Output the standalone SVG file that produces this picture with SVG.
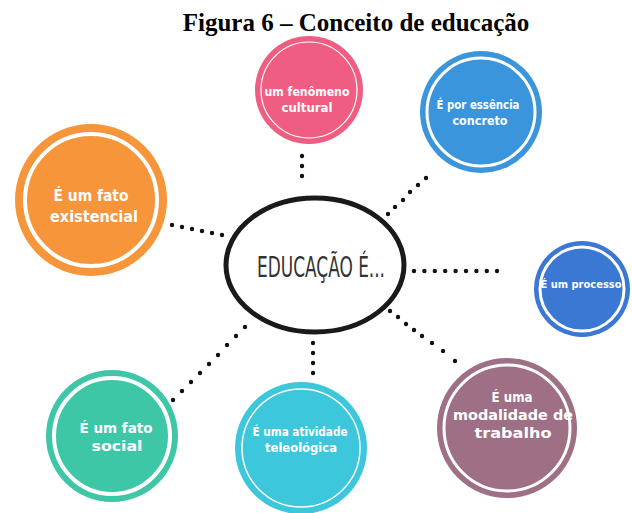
<svg xmlns="http://www.w3.org/2000/svg" width="632" height="513" viewBox="0 0 632 513">
<style>
.t{font-family:"DejaVu Sans Condensed","Liberation Sans Narrow",sans-serif;font-weight:bold;fill:#fff;text-anchor:middle}
.ring{fill:none;stroke:#fff}
.dot{fill:#111}
</style>
<rect width="632" height="513" fill="#fff"/>
<text x="356" y="31" font-family="Liberation Serif,serif" font-weight="bold" font-size="25" text-anchor="middle" fill="#000">Figura 6 – Conceito de educação</text>

<g id="connectors">
<circle class="dot" cx="302" cy="156" r="2.2"/><circle class="dot" cx="302" cy="166" r="2.2"/><circle class="dot" cx="302" cy="176" r="2.2"/>
<circle class="dot" cx="426" cy="178" r="2.2"/><circle class="dot" cx="418" cy="185" r="2.2"/><circle class="dot" cx="410" cy="192" r="2.2"/><circle class="dot" cx="403" cy="200" r="2.2"/><circle class="dot" cx="395" cy="207" r="2.2"/><circle class="dot" cx="388" cy="214" r="2.2"/>
<circle class="dot" cx="172" cy="225" r="2.2"/><circle class="dot" cx="182" cy="227" r="2.2"/><circle class="dot" cx="192" cy="229" r="2.2"/><circle class="dot" cx="202" cy="231" r="2.2"/><circle class="dot" cx="212" cy="233" r="2.2"/><circle class="dot" cx="222" cy="235" r="2.2"/>
<circle class="dot" cx="414" cy="271" r="2.2"/><circle class="dot" cx="424.4" cy="271" r="2.2"/><circle class="dot" cx="434.8" cy="271" r="2.2"/><circle class="dot" cx="445.2" cy="271" r="2.2"/><circle class="dot" cx="455.6" cy="271" r="2.2"/><circle class="dot" cx="466" cy="271" r="2.2"/><circle class="dot" cx="476.4" cy="271" r="2.2"/><circle class="dot" cx="486.8" cy="271" r="2.2"/><circle class="dot" cx="497" cy="271" r="2.2"/>
<circle class="dot" cx="382" cy="305" r="2.2"/><circle class="dot" cx="390" cy="311" r="2.2"/><circle class="dot" cx="398" cy="317" r="2.2"/><circle class="dot" cx="406" cy="324" r="2.2"/><circle class="dot" cx="414" cy="330" r="2.2"/><circle class="dot" cx="422" cy="336" r="2.2"/><circle class="dot" cx="432" cy="343" r="2.2"/><circle class="dot" cx="443" cy="351" r="2.2"/><circle class="dot" cx="455" cy="361" r="2.2"/>
<circle class="dot" cx="173" cy="400" r="2.2"/><circle class="dot" cx="182" cy="391" r="2.2"/><circle class="dot" cx="191" cy="382" r="2.2"/><circle class="dot" cx="200" cy="373" r="2.2"/><circle class="dot" cx="209" cy="364" r="2.2"/><circle class="dot" cx="218" cy="355" r="2.2"/><circle class="dot" cx="227" cy="345" r="2.2"/><circle class="dot" cx="236" cy="336" r="2.2"/><circle class="dot" cx="245" cy="327" r="2.2"/>
<circle class="dot" cx="313" cy="343" r="2.2"/><circle class="dot" cx="313" cy="353" r="2.2"/><circle class="dot" cx="313" cy="363" r="2.2"/><circle class="dot" cx="313" cy="373" r="2.2"/>
</g>

<g id="center">
<ellipse cx="315" cy="265" rx="89" ry="67" fill="#fff" stroke="#1a1a1a" stroke-width="5"/>
<text x="321" y="277" font-family="DejaVu Sans Condensed,sans-serif" font-weight="200" font-size="29" fill="#333" text-anchor="middle" textLength="128" lengthAdjust="spacingAndGlyphs">EDUCAÇÃO É...</text>
</g>

<g id="n-pink">
<circle cx="309" cy="90" r="54" fill="#ef5e82"/>
<circle class="ring" cx="309" cy="90" r="48" stroke-width="1.2"/>
<text class="t" x="307" y="96" font-size="12" textLength="85" lengthAdjust="spacingAndGlyphs">um fenômeno</text>
<text class="t" x="307" y="112" font-size="12" textLength="51" lengthAdjust="spacingAndGlyphs">cultural</text>
</g>

<g id="n-blue1">
<circle cx="481" cy="112" r="61" fill="#3a95dc"/>
<circle class="ring" cx="481" cy="112" r="54" stroke-width="3"/>
<text class="t" x="478" y="109" font-size="13" textLength="83" lengthAdjust="spacingAndGlyphs">É por essência</text>
<text class="t" x="480" y="125" font-size="13" textLength="55" lengthAdjust="spacingAndGlyphs">concreto</text>
</g>

<g id="n-orange">
<circle cx="91" cy="200" r="76" fill="#f7953b"/>
<circle class="ring" cx="91" cy="200" r="66" stroke-width="4"/>
<text class="t" x="91" y="201" font-size="16" textLength="75" lengthAdjust="spacingAndGlyphs">É um fato</text>
<text class="t" x="94" y="222" font-size="16" textLength="88" lengthAdjust="spacingAndGlyphs">existencial</text>
</g>

<g id="n-blue2">
<circle cx="582" cy="289" r="48" fill="#3b78d3"/>
<circle class="ring" cx="582" cy="289" r="42" stroke-width="3"/>
<text class="t" x="581" y="288" font-size="11">É um processo</text>
</g>

<g id="n-green">
<circle cx="112" cy="436" r="66" fill="#3ec7a7"/>
<circle class="ring" cx="112" cy="436" r="58" stroke-width="4"/>
<text class="t" x="116" y="433" font-size="14" textLength="73" lengthAdjust="spacingAndGlyphs">É um fato</text>
<text class="t" x="117" y="451" font-size="14" textLength="51" lengthAdjust="spacingAndGlyphs">social</text>
</g>

<g id="n-cyan">
<circle cx="301" cy="448" r="66" fill="#3cc7dc"/>
<circle class="ring" cx="301" cy="448" r="59" stroke-width="1.5"/>
<text class="t" x="300" y="436" font-size="12" textLength="95" lengthAdjust="spacingAndGlyphs">É uma atividade</text>
<text class="t" x="301" y="452" font-size="12" textLength="72" lengthAdjust="spacingAndGlyphs">teleológica</text>
</g>

<g id="n-mauve">
<circle cx="507" cy="428" r="70" fill="#9f6f86"/>
<circle class="ring" cx="507" cy="428" r="63" stroke-width="3"/>
<text class="t" x="512" y="402" font-size="14" textLength="41" lengthAdjust="spacingAndGlyphs">É uma</text>
<text class="t" x="513" y="420" font-size="14" textLength="120" lengthAdjust="spacingAndGlyphs">modalidade de</text>
<text class="t" x="513" y="438" font-size="14" textLength="77" lengthAdjust="spacingAndGlyphs">trabalho</text>
</g>
</svg>
